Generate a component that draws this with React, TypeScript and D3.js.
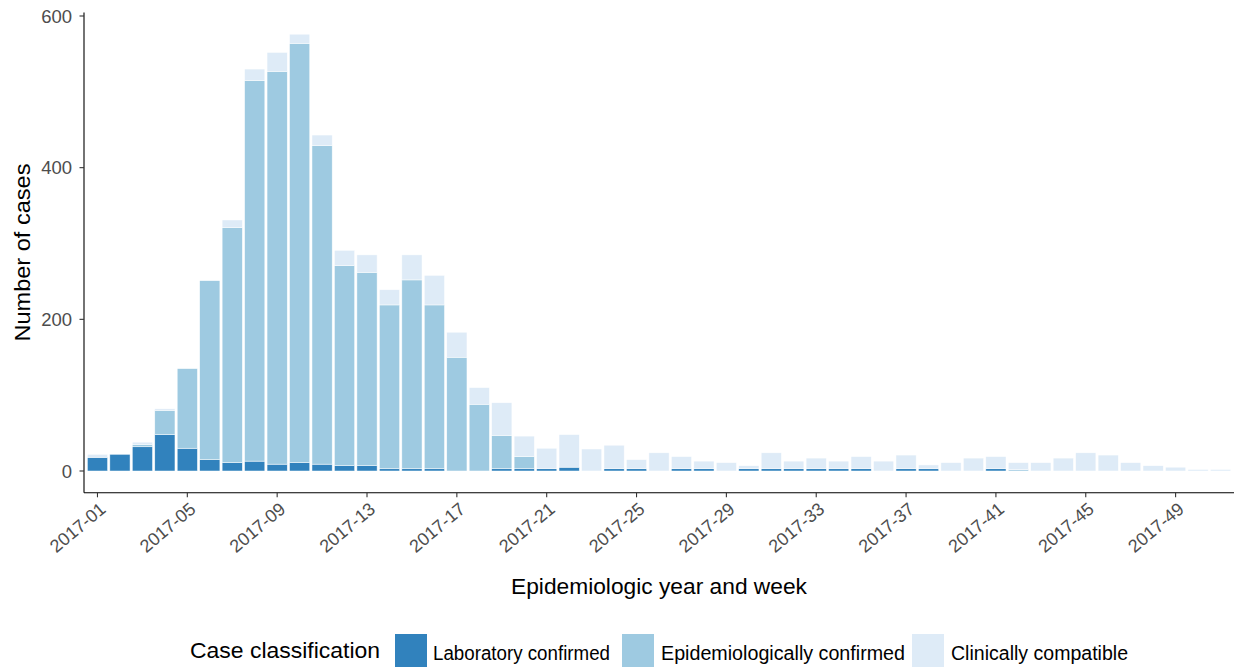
import React from "react";
import * as d3 from "d3";

const weeks: string[] = Array.from({ length: 51 }, (_, i) => `2017-${String(i + 1).padStart(2, "0")}`);
const labConfirmed: number[] = [18, 22, 32, 48, 30, 15, 11, 13, 9, 11, 9, 7, 7, 3, 3, 3, 0, 0, 3, 3, 3, 5, 0, 3, 3, 0, 3, 3, 0, 3, 3, 3, 3, 3, 3, 0, 3, 3, 0, 0, 3, 0, 0, 0, 0, 0, 0, 0, 0, 0, 0];
const epiConfirmed: number[] = [0, 0, 3, 32, 105, 236, 310, 502, 518, 553, 420, 264, 255, 216, 249, 216, 150, 88, 44, 16, 0, 0, 0, 0, 0, 0, 0, 0, 0, 0, 0, 0, 0, 0, 0, 0, 0, 0, 0, 0, 0, 2, 0, 0, 0, 0, 0, 0, 0, 0, 0];
const clinCompatible: number[] = [4, 0, 3, 2, 0, 0, 10, 15, 25, 12, 14, 20, 23, 20, 33, 39, 33, 22, 43, 27, 27, 43, 29, 31, 12, 24, 16, 10, 11, 4, 21, 10, 14, 10, 16, 13, 18, 5, 11, 17, 16, 9, 11, 17, 24, 21, 11, 7, 5, 2, 2];
const yTicks: number[] = [0, 200, 400, 600];
const xTickLabels: string[] = weeks.filter((_, i) => i % 4 === 0);
const seriesNames: string[] = ["Laboratory confirmed", "Epidemiologically confirmed", "Clinically compatible"];
const seriesColors: string[] = ["#3182bd", "#9ecae1", "#deebf7"];

export default function App() {
  const W = 1236, H = 667;
  const left = 84, right = 1234, top = 12.4, bottom = 492.8;

  const x = d3.scaleBand<string>().domain(weeks).range([left, right]).paddingInner(0.1).paddingOuter(0.15);
  const y = d3.scaleLinear().domain([0, 600]).range([471, 16]);

  const rows = weeks.map((w, i) => ({ week: w, lab: labConfirmed[i], epi: epiConfirmed[i], clin: clinCompatible[i] }));
  const stack = d3.stack<any>().keys(["lab", "epi", "clin"]);
  const stacked = stack(rows);

  const tickColor = "#4D4D4D";
  const font = "Liberation Sans, Arial, sans-serif";

  const legendKeys = [395, 622, 912];
  const legendLabelX = [433, 661, 951];
  const legendLabelW = [177, 244, 177];

  return (
    <svg width={W} height={H} style={{ position: "absolute", left: 0, top: 0, background: "#fff" }} fontFamily={font}>
      <rect x={0} y={0} width={W} height={H} fill="#fff" />
      {stacked.map((layer, li) => (
        <g key={li} fill={seriesColors[li]}>
          {layer.map((d: any, i: number) => {
            const h = y(d[0]) - y(d[1]);
            if (h <= 0) return null;
            return (
              <rect key={i} x={x(weeks[i])} width={x.bandwidth()} y={y(d[1])} height={h} stroke="#ffffff" strokeWidth={0.6} strokeOpacity={0.8} />
            );
          })}
        </g>
      ))}
      {/* y axis */}
      <line x1={left} x2={left} y1={top} y2={bottom} stroke="#000" strokeWidth={1.1} />
      {yTicks.map((t) => (
        <g key={t}>
          <line x1={left - 4.5} x2={left} y1={y(t)} y2={y(t)} stroke="#333" strokeWidth={1.1} />
          <text x={72} y={y(t)} dy="0.36em" textAnchor="end" fontSize={18.5} fill={tickColor}>{t}</text>
        </g>
      ))}
      {/* x axis */}
      <line x1={left} x2={right} y1={bottom} y2={bottom} stroke="#000" strokeWidth={1.1} />
      {xTickLabels.map((lab) => {
        const cx = (x(lab) as number) + x.bandwidth() / 2;
        return (
          <g key={lab}>
            <line x1={cx} x2={cx} y1={bottom} y2={bottom + 4.5} stroke="#333" strokeWidth={1.1} />
            <text transform={`translate(${cx + 9.5},${511}) rotate(-40)`} textAnchor="end" fontSize={18} fill={tickColor}>{lab}</text>
          </g>
        );
      })}
      {/* axis titles */}
      <text x={(left + right) / 2} y={594} textAnchor="middle" fontSize={22} textLength={296} lengthAdjust="spacingAndGlyphs" fill="#000">Epidemiologic year and week</text>
      <text transform={`translate(30,${(top + bottom) / 2}) rotate(-90)`} textAnchor="middle" fontSize={22} textLength={178} lengthAdjust="spacingAndGlyphs" fill="#000">Number of cases</text>
      {/* legend */}
      <text x={190} y={658} fontSize={22} textLength={190} lengthAdjust="spacingAndGlyphs" fill="#000">Case classification</text>
      {seriesNames.map((n, i) => (
        <g key={n}>
          <rect x={legendKeys[i]} y={634} width={32} height={34} fill={seriesColors[i]} />
          <text x={legendLabelX[i]} y={660} fontSize={20} textLength={legendLabelW[i]} lengthAdjust="spacingAndGlyphs" fill="#000">{n}</text>
        </g>
      ))}
    </svg>
  );
}
